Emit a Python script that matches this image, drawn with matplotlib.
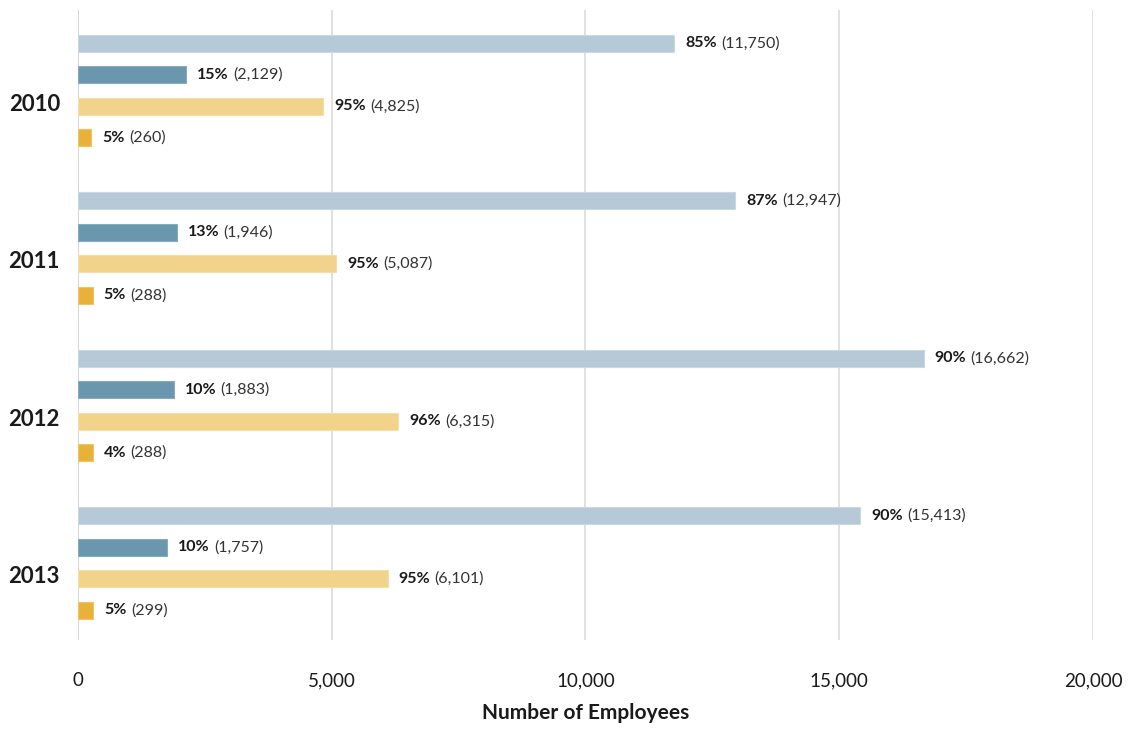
import numpy as np
import matplotlib.pyplot as plt

plt.rcParams['font.family'] = ['Lato', 'DejaVu Sans']

years = ['2010', '2011', '2012', '2013']
series_a = [11750, 12947, 16662, 15413]
series_b = [2129, 1946, 1883, 1757]
series_c = [4825, 5087, 6315, 6101]
series_d = [260, 288, 288, 299]
pct_a = [85, 87, 90, 90]
pct_b = [15, 13, 10, 10]
pct_c = [95, 95, 96, 95]
pct_d = [5, 5, 4, 5]

colors = ['#b5cad6', '#6a97ad', '#f2d38c', '#e8b23a']
edges = ['#c9d8e1', '#86abbd', '#f6dfa6', '#efc462']


def label_bar(ax, x, y, pct, value):
    bold = ax.annotate(f'{pct}%', xy=(x, y), xytext=(8, 0), textcoords='offset points',
                       ha='left', va='center', fontsize=11.5, fontweight='bold', color='#1a1a1a')
    ax.annotate(f'({value:,})', xy=(1, 0.5), xycoords=bold, xytext=(3, 0),
                textcoords='offset points', ha='left', va='center',
                fontsize=11.5, color='#333333')


fig = plt.figure(figsize=(11.29, 7.30), dpi=100)
ax = fig.add_axes([0.0691, 0.123, 0.8990, 0.863])

groups = np.arange(len(years)) * 5.0
series = [series_a, series_b, series_c, series_d]
pcts = [pct_a, pct_b, pct_c, pct_d]
for k in range(4):
    ypos = groups + k
    ax.barh(ypos, series[k], height=0.54, color=colors[k], edgecolor=edges[k], linewidth=0.8, zorder=3)
    for y, v, p in zip(ypos, series[k], pcts[k]):
        label_bar(ax, v, y, p, v)

ax.set_xlim(0, 20000)
ax.set_ylim(18.95, -1.05)
ax.set_xticks([0, 5000, 10000, 15000, 20000])
ax.set_xticklabels(['0', '5,000', '10,000', '15,000', '20,000'], fontsize=13.5, color='#1a1a1a')
ax.set_yticks(groups + 1.87)
ax.set_yticklabels(years, fontsize=16, fontweight='bold', color='#1a1a1a')
ax.tick_params(axis='both', length=0)
ax.tick_params(axis='x', pad=23)
ax.tick_params(axis='y', pad=13)

ax.grid(axis='x', color='#dcdcdc', linewidth=1.2, zorder=0)
ax.axvline(0, color='#bdbdbd', linewidth=1.4, zorder=1)
for s in ax.spines.values():
    s.set_visible(False)

ax.set_xlabel('Number of Employees', fontsize=15, fontweight='bold', color='#1a1a1a', labelpad=10)

fig.savefig('out.png', dpi=100)
